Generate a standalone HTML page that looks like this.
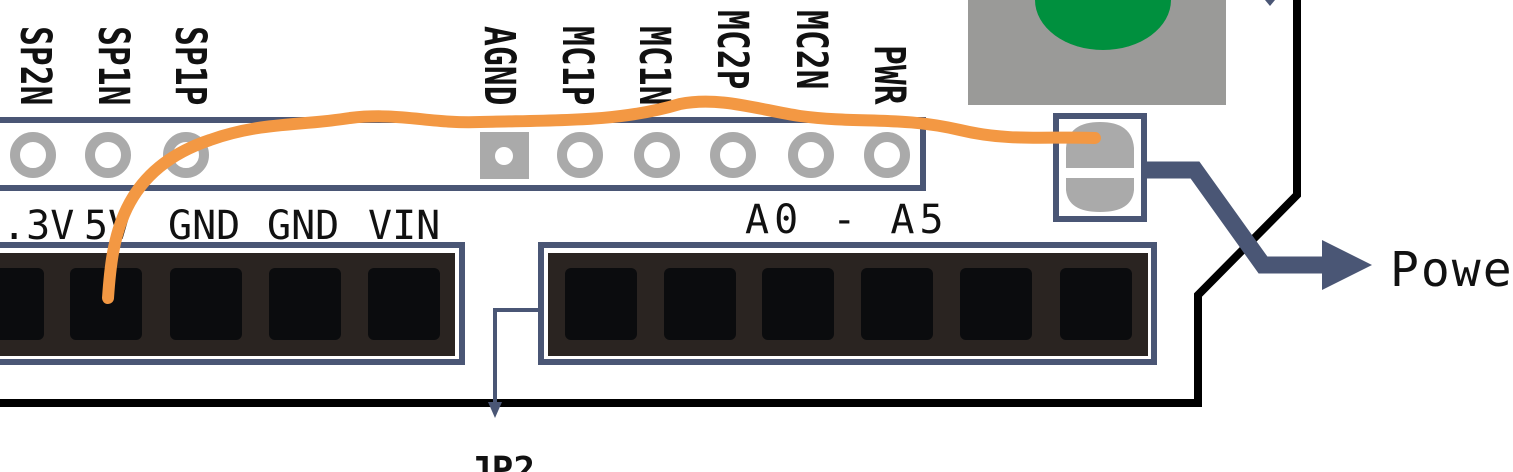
<!DOCTYPE html>
<html><head><meta charset="utf-8"><style>
html,body{margin:0;padding:0;background:#fff;}
svg{display:block;}
text{font-family:"DejaVu Sans Mono","Liberation Mono",monospace;fill:#111;}
</style></head><body>
<svg width="1513" height="472" viewBox="0 0 1513 472" xmlns="http://www.w3.org/2000/svg">
<rect width="1513" height="472" fill="#fff"/>
<rect x="968" y="0" width="258" height="105" fill="#9a9a98"/>
<ellipse cx="1103" cy="0" rx="68" ry="50" fill="#00903e"/>
<polyline points="-5,403 1198,403 1198,295 1297,195 1297,-5" fill="none" stroke="#000" stroke-width="8"/>
<path d="M1265,0 L1275,0 L1270,6 Z" fill="#4a5675"/>
<rect x="-10" y="120" width="933" height="68" fill="#fff" stroke="#4a5675" stroke-width="6"/>
<g fill="none" stroke="#aaa" stroke-width="10">
<circle cx="33" cy="155" r="18"/><circle cx="108" cy="155" r="18"/><circle cx="186" cy="155" r="18"/>
<circle cx="580" cy="155" r="18"/><circle cx="657" cy="155" r="18"/><circle cx="733" cy="155" r="18"/><circle cx="811" cy="155" r="18"/><circle cx="887" cy="155" r="18"/>
</g>
<rect x="480" y="132" width="49" height="47" fill="#aaa"/>
<circle cx="504" cy="156" r="9" fill="#fff"/>
<g font-size="33" font-weight="bold">
<text transform="translate(21,26) rotate(90) scale(1,1.3)">SP2N</text>
<text transform="translate(99,26) rotate(90) scale(1,1.3)">SP1N</text>
<text transform="translate(176,26) rotate(90) scale(1,1.3)">SP1P</text>
<text transform="translate(485,26) rotate(90) scale(1,1.3)">AGND</text>
<text transform="translate(563,26) rotate(90) scale(1,1.3)">MC1P</text>
<text transform="translate(640,26) rotate(90) scale(1,1.3)">MC1N</text>
<text transform="translate(718,10) rotate(90) scale(1,1.3)">MC2P</text>
<text transform="translate(797,10) rotate(90) scale(1,1.3)">MC2N</text>
<text transform="translate(875,45) rotate(90) scale(1,1.3)">PWR</text>
</g>
<g font-size="40">
<text x="-22" y="239">3.3V</text>
<text x="84" y="239">5V</text>
<text x="168" y="239">GND</text>
<text x="267" y="239">GND</text>
<text x="368" y="239">VIN</text>
<text x="745" y="233" letter-spacing="5">A0 - A5</text>
</g>
<rect x="-10" y="245" width="472" height="117" fill="#fff" stroke="#4a5675" stroke-width="6"/>
<rect x="-10" y="253" width="465" height="103" fill="#2a2421"/>
<g fill="#0b0c0e">
<rect x="-20" y="268" width="64" height="72" rx="6"/>
<rect x="70" y="268" width="72" height="72" rx="6"/>
<rect x="170" y="268" width="72" height="72" rx="6"/>
<rect x="269" y="268" width="72" height="72" rx="6"/>
<rect x="368" y="268" width="72" height="72" rx="6"/>
</g>
<rect x="541" y="245" width="613" height="117" fill="#fff" stroke="#4a5675" stroke-width="6"/>
<rect x="548" y="253" width="600" height="103" fill="#2a2421"/>
<g fill="#0b0c0e">
<rect x="565" y="268" width="72" height="72" rx="6"/>
<rect x="664" y="268" width="72" height="72" rx="6"/>
<rect x="762" y="268" width="72" height="72" rx="6"/>
<rect x="861" y="268" width="72" height="72" rx="6"/>
<rect x="960" y="268" width="72" height="72" rx="6"/>
<rect x="1060" y="268" width="72" height="72" rx="6"/>
</g>
<polyline points="541,310 495,310 495,405" fill="none" stroke="#4a5675" stroke-width="4"/>
<path d="M488,402 L502,402 L495,418 Z" fill="#4a5675"/>
<text x="470" y="482" font-size="36" font-weight="bold" font-family="Liberation Sans,sans-serif">JP2</text>
<rect x="1056" y="116" width="88" height="103" fill="#fff" stroke="#4a5675" stroke-width="6"/>
<path d="M1066,168 L1066,148 Q1068,122 1100,122 Q1132,122 1134,148 L1134,168 Z" fill="#aaa"/>
<path d="M1066,178 L1066,190 Q1068,212 1100,212 Q1132,212 1134,190 L1134,178 Z" fill="#aaa"/>
<polyline points="1147,170 1195,170 1263,265 1330,265" fill="none" stroke="#4a5675" stroke-width="17"/>
<path d="M1322,240 L1372,265 L1322,290 Z" fill="#4a5675"/>
<text x="1390" y="286" font-size="48" letter-spacing="2">Power</text>
<path d="M108,298 C112,240 120,170 210,140 C260,122 300,126 350,118 C400,112 430,124 480,122 C560,120 620,122 680,104 C720,96 760,110 800,116 C860,124 900,116 960,130 C1010,142 1050,136 1095,138" fill="none" stroke="#f39843" stroke-width="12" stroke-linecap="round"/>
</svg>
</body></html>
